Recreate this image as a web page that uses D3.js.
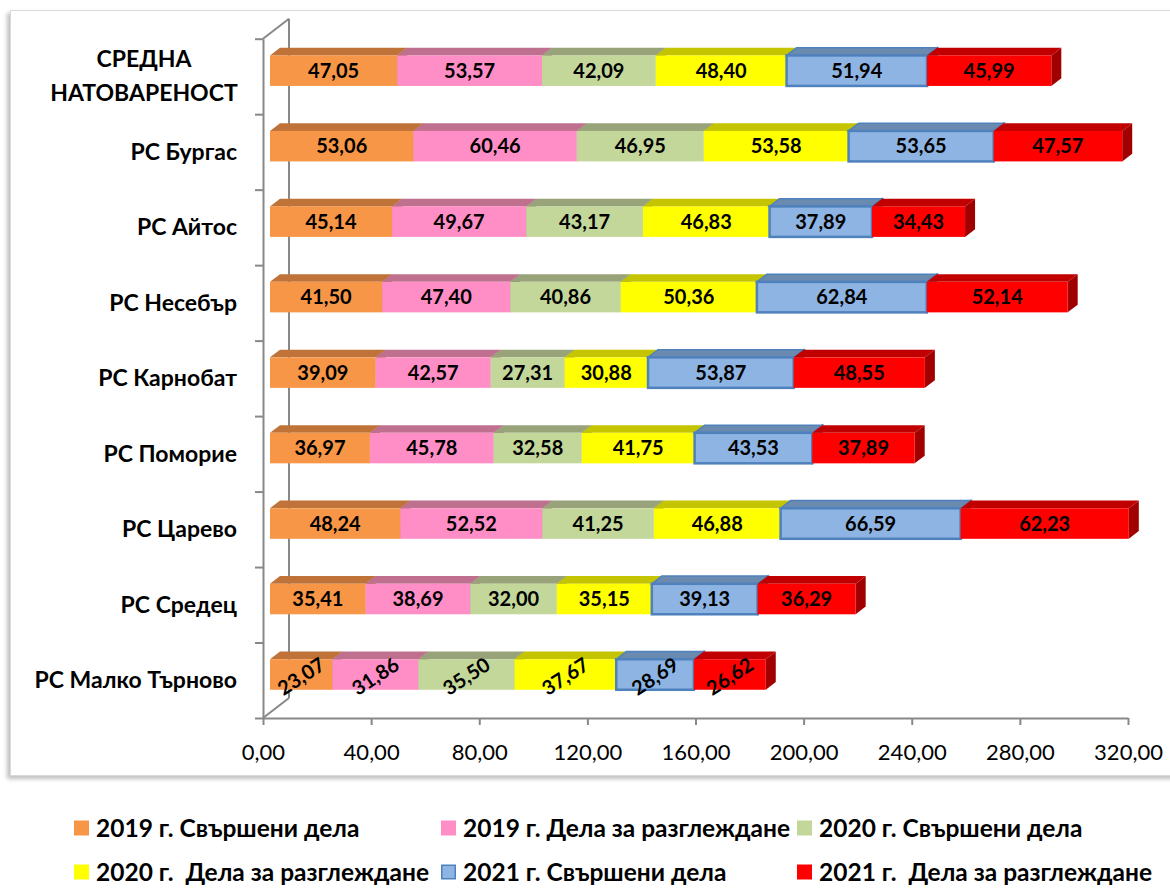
<!DOCTYPE html>
<html><head><meta charset="utf-8">
<script src="https://cdn.jsdelivr.net/npm/d3@7"></script>
<style>
html,body{margin:0;padding:0;background:#fff;}
svg{display:block;}
</style></head>
<body>
<svg id="chart" width="1170" height="889"></svg>
<script>
// ---- data ----
const categories = [["СРЕДНА", "НАТОВАРЕНОСТ"], ["РС Бургас"], ["РС Айтос"], ["РС Несебър"], ["РС Карнобат"], ["РС Поморие"], ["РС Царево"], ["РС Средец"], ["РС Малко Търново"]];
const seriesNames = ["2019 г. Свършени дела", "2019 г. Дела за разглеждане", "2020 г. Свършени дела", "2020 г.  Дела за разглеждане", "2021 г. Свършени дела", "2021 г.  Дела за разглеждане"];
const done2019 = [47.05, 53.06, 45.14, 41.50, 39.09, 36.97, 48.24, 35.41, 23.07];
const pend2019 = [53.57, 60.46, 49.67, 47.40, 42.57, 45.78, 52.52, 38.69, 31.86];
const done2020 = [42.09, 46.95, 43.17, 40.86, 27.31, 32.58, 41.25, 32.00, 35.50];
const pend2020 = [48.40, 53.58, 46.83, 50.36, 30.88, 41.75, 46.88, 35.15, 37.67];
const done2021 = [51.94, 53.65, 37.89, 62.84, 53.87, 43.53, 66.59, 39.13, 28.69];
const pend2021 = [45.99, 47.57, 34.43, 52.14, 48.55, 37.89, 62.23, 36.29, 26.62];
const xTicks = [0, 40, 80, 120, 160, 200, 240, 280, 320];

const seriesValues = [done2019, pend2019, done2020, pend2020, done2021, pend2021];
const fronts = ["#F79646", "#FF8EC6", "#C4D79B", "#FFFF00", "#8DB4E2", "#FF0000"];
const tops   = ["#BF7338", "#C0708F", "#98A37A", "#C4C400", "#6A8AB0", "#C00000"];
const sides  = ["#A8622E", "#A85E7C", "#838D68", "#A8A800", "#5A789C", "#A00000"];
const strokes = [null, null, null, null, "#4F81BD", null];

const svg = d3.select("#chart");
const fmt = v => d3.format(".2f")(v).replace(".", ",");
const FONT = "Lato, 'Open Sans', sans-serif";

// shadow filter
const defs = svg.append("defs");
const f = defs.append("filter").attr("id", "sh").attr("x", "-5%").attr("y", "-5%").attr("width", "110%").attr("height", "110%");
f.append("feDropShadow").attr("dx", -3).attr("dy", 3).attr("stdDeviation", 2).attr("flood-color", "#000").attr("flood-opacity", 0.25);

// frame
svg.append("rect").attr("x", 10.5).attr("y", 10.5).attr("width", 1170).attr("height", 765)
  .attr("fill", "#fff").attr("stroke", "#d9d9d9").attr("filter", "url(#sh)");

// scales
const x = d3.scaleLinear().domain([0, 320]).range([263, 1128]);
const yTop = 38.7, yBot = 718;
const y = d3.scaleBand().domain(d3.range(categories.length)).range([yTop, yBot]).padding(0);
const yLin = d3.scaleLinear().domain([0, categories.length]).range([yTop, yBot]);
const DX = 26, DY = -20;          // full depth of the 3D box
const f1 = 7 / 26, f2 = 17 / 26;  // bar depth fractions

const axisColor = "#888";

// back wall / depth lines
const g3 = svg.append("g").attr("stroke", axisColor).attr("stroke-width", 2).attr("fill", "none");
g3.append("line").attr("x1", x(0)).attr("y1", yTop).attr("x2", x(0) + DX).attr("y2", yTop + DY);
g3.append("line").attr("x1", x(0)).attr("y1", yBot).attr("x2", x(0) + DX).attr("y2", yBot + DY);
g3.append("line").attr("x1", x(0) + DX).attr("y1", yTop + DY).attr("x2", x(0) + DX).attr("y2", yBot + DY);

// left axis (ticks at category boundaries)
const ax = svg.append("g").attr("transform", `translate(${x(0)},0)`)
  .call(d3.axisLeft(yLin).tickValues(d3.range(categories.length + 1)).tickFormat("").tickSize(8).tickSizeOuter(0));
ax.selectAll("path,line").attr("stroke", axisColor).attr("stroke-width", 2);

// bottom axis
const bx = svg.append("g").attr("transform", `translate(0,${yBot})`)
  .call(d3.axisBottom(x).tickValues(xTicks).tickFormat(fmt).tickSize(7).tickSizeOuter(0).tickPadding(19));
bx.selectAll("path,line").attr("stroke", axisColor).attr("stroke-width", 2);
bx.selectAll("text").attr("font-family", FONT).attr("font-size", 22).attr("fill", "#000");

// category labels
const cl = svg.append("g").attr("font-family", FONT).attr("font-weight", "bold").attr("font-size", 23).attr("fill", "#000");
categories.forEach((lines, i) => {
  const cy = y(i) + y.bandwidth() / 2;
  if (lines.length === 1) {
    cl.append("text").attr("text-anchor", "end").attr("x", 237).attr("y", cy).attr("dy", "0.35em").text(lines[0]);
  } else {
    lines.forEach((ln, k) => {
      cl.append("text").attr("text-anchor", "middle").attr("x", 144)
        .attr("y", cy + (k === 0 ? -17 : 17)).attr("dy", "0.35em").text(ln);
    });
  }
});

// bars
const bars = svg.append("g");
const labels = svg.append("g").attr("font-family", FONT).attr("font-weight", "bold").attr("font-size", 20).attr("fill", "#000");
categories.forEach((_, i) => {
  const cy = y(i) + y.bandwidth() / 2;
  const fy0 = cy - 21, fy1 = cy + 9.5;
  let acc = 0;
  seriesValues.forEach((arr, s) => {
    const v = arr[i];
    const xa = x(acc) + DX * f1, xb = x(acc + v) + DX * f1;
    const ddx = DX * (f2 - f1), ddy = DY * (f2 - f1);
    const g = bars.append("g");
    // side
    g.append("path").attr("d", `M${xb},${fy0}L${xb + ddx},${fy0 + ddy}L${xb + ddx},${fy1 + ddy}L${xb},${fy1}Z`)
      .attr("fill", sides[s]).attr("stroke", strokes[s] || "none").attr("stroke-width", 1.5);
    // top
    g.append("path").attr("d", `M${xa},${fy0}L${xa + ddx},${fy0 + ddy}L${xb + ddx},${fy0 + ddy}L${xb},${fy0}Z`)
      .attr("fill", tops[s]).attr("stroke", strokes[s] || "none").attr("stroke-width", 1.5);
    // front
    g.append("rect").attr("x", xa).attr("y", fy0).attr("width", xb - xa).attr("height", fy1 - fy0)
      .attr("fill", fronts[s]).attr("stroke", strokes[s] || "none").attr("stroke-width", 2.5);
    const lx = (xa + xb) / 2, ly = (fy0 + fy1) / 2;
    const t = labels.append("text").attr("text-anchor", "middle").attr("dy", "0.35em").text(fmt(v));
    if (i === categories.length - 1) t.attr("transform", `translate(${lx},${ly + 2}) rotate(-33)`);
    else t.attr("x", lx).attr("y", ly);
    acc += v;
  });
});

// legend
const legX = [74, 441, 797], legY = [828, 872];
const lg = svg.append("g").attr("font-family", FONT).attr("font-weight", "bold").attr("font-size", 24.5).attr("fill", "#000");
seriesNames.forEach((name, s) => {
  const cx = legX[s % 3], cy = legY[Math.floor(s / 3)];
  lg.append("rect").attr("x", cx + (strokes[s] ? 0.75 : 0)).attr("y", cy - 7.5 + (strokes[s] ? 0.75 : 0))
    .attr("width", strokes[s] ? 13.5 : 15).attr("height", strokes[s] ? 13.5 : 15)
    .attr("fill", fronts[s]).attr("stroke", strokes[s] || "none").attr("stroke-width", 1.5);
  lg.append("text").attr("x", cx + 22).attr("y", cy).attr("dy", "0.35em").attr("xml:space", "preserve").style("white-space", "pre").text(name);
});
</script>
</body></html>
